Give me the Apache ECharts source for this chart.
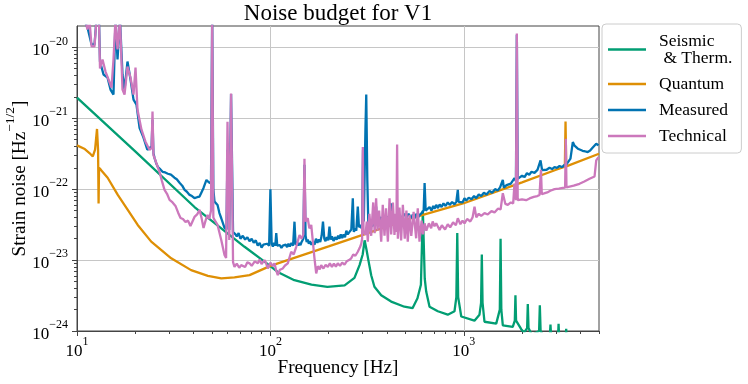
<!DOCTYPE html>
<html>
<head>
<meta charset="utf-8">
<script src="https://cdn.jsdelivr.net/npm/echarts@6/dist/echarts.min.js"></script>
<style>html,body{margin:0;padding:0;background:#fff}#c{width:748px;height:384px}</style>
</head>
<body>
<div id="c"></div>
<script>
// ---- data (frequency in Hz, strain noise in 1/sqrt(Hz)) ----
const seismicF = [10, 20, 40.5, 73.5, 93.2, 109, 133, 163, 197, 242, 272, 289, 300, 307, 314, 321, 332, 345, 374, 421, 493, 543, 576, 600, 614, 628, 639, 665, 734, 826, 895, 915, 925, 935, 970, 1135, 1205, 1228, 1239, 1250, 1279, 1471, 1535, 1549, 1563, 1591, 1791, 1835, 1849, 1863, 1981, 2050, 2125, 2142, 2160, 2250, 2450, 2472, 2495, 2600, 2780, 2806, 2830, 3065, 3090, 3115, 3360, 3383, 3405, 3600, 5000];
const seismicV = [1.95e-21, 3.42e-22, 5.6e-23, 1.54e-23, 9.5e-24, 6.8e-24, 5.2e-24, 4.5e-24, 4.2e-24, 4.4e-24, 5.6e-24, 8.5e-24, 1.2e-23, 1.9e-23, 1.4e-23, 1.0e-23, 6.1e-24, 4.2e-24, 3.2e-24, 2.6e-24, 2.2e-24, 2.1e-24, 2.9e-24, 4.5e-24, 5e-23, 5.5e-24, 3.6e-24, 2.2e-24, 1.9e-24, 1.7e-24, 1.9e-24, 3e-24, 2.4e-23, 3e-24, 1.6e-24, 1.4e-24, 1.7e-24, 2.5e-24, 1.2e-23, 2.5e-24, 1.35e-24, 1.27e-24, 2e-24, 2e-23, 2e-24, 1.2e-24, 1.14e-24, 1.4e-24, 3.2e-24, 1.4e-24, 1.06e-24, 9.5e-25, 1.1e-24, 2.4e-24, 1.1e-24, 8.8e-25, 1.0e-24, 2.3e-24, 1.0e-24, 8.2e-25, 8e-25, 1.23e-24, 8e-25, 7.5e-25, 1.26e-24, 7.5e-25, 7e-25, 1.07e-24, 7e-25, 6.5e-25, 5.5e-25];

const quantumF = [10, 10.9, 11.6, 12.07, 12.4, 12.69, 12.85, 12.93, 13.0, 13.3, 14.4, 16.25, 18.3, 20.6, 24.2, 30.7, 38.9, 47.5, 55.7, 65.2, 78, 100, 200, 300, 500, 1000, 2000, 3000, 3330, 3357, 3385, 5000];
const quantumV = [4.14e-22, 3.72e-22, 3.23e-22, 2.89e-22, 3.6e-22, 7.06e-22, 3.6e-22, 6.3e-23, 2.0e-22, 1.87e-22, 1.45e-22, 8.3e-23, 5.1e-23, 3.13e-23, 1.82e-23, 1.06e-23, 7.22e-24, 6.0e-24, 5.51e-24, 5.69e-24, 6.14e-24, 8.3e-24, 1.56e-23, 2.27e-23, 3.68e-23, 6.34e-23, 1.25e-22, 1.88e-22, 2.07e-22, 9e-22, 2.1e-22, 3.16e-22];

const measuredF = [10, 11.33, 11.89, 12.32, 12.61, 12.99, 13.15, 13.71, 14.38, 14.9, 15.44, 15.81, 16.2, 16.68, 17.19, 17.61, 18.24, 18.91, 19.6, 20.3, 21.05, 22.07, 23.1, 24.3, 24.57, 24.85, 25.16, 25.7, 26.2, 27, 27.7, 28.6, 29.5, 30.6, 31.9, 32.8, 33.9, 35, 36, 37, 38.2, 39.3, 40.5, 41.8, 43.0, 44, 45.1, 46.7, 48, 49.3, 50, 50.7, 51.4, 53.3, 54.5, 55.7, 57.9, 59.3, 60.0, 61.3, 62.6, 64.1, 66, 67, 68.5, 70, 72, 74, 76, 78, 80, 82, 84, 86, 88, 90, 92, 94, 96, 98.5, 100, 101.5, 103, 104.4, 106, 107.2, 108.5, 110, 112, 114, 116, 118, 120, 122, 124, 126, 128.5, 131, 133.2, 135, 137, 139, 141, 143, 145, 148, 150, 152, 154, 156, 158, 160, 163, 166, 169, 172, 175, 178, 181, 184, 187, 190, 192.7, 196, 199, 202, 205, 208, 212, 216, 220, 224, 227.5, 231, 235, 239, 243, 247, 251, 256.5, 262, 266.7, 270, 273.8, 278, 283, 287, 292, 296, 298, 301.3, 304, 306, 310, 313, 317, 321, 325.4, 330, 336, 345, 349, 352, 355, 360, 366.5, 373, 380, 388, 396, 404.5, 412, 418, 421, 424, 428, 436, 446, 456, 466, 478, 493, 505, 518, 535, 545, 556, 570, 580, 590, 605, 620, 627, 635, 649, 665, 680, 695, 705.5, 720, 735, 750, 767, 785, 805, 826, 845, 870, 895, 915, 925, 931, 940, 962, 985, 1008, 1030, 1060, 1096, 1130, 1160, 1195, 1230, 1270, 1310, 1358, 1400, 1450, 1499, 1540, 1575, 1591, 1610, 1663, 1700, 1750, 1790, 1828, 1860, 1880, 1900, 1941, 2000, 2061, 2120, 2180, 2239, 2320, 2404, 2450, 2493, 2540, 2583, 2680, 2773, 2860, 2944, 3030, 3125, 3220, 3317, 3400, 3475, 3560, 3661, 3736, 3886, 4000, 4110, 4250, 4375, 4500, 4630, 4738, 4838, 4972];
const measuredV = [4e-20, 1.9e-20, 1.1e-20, 1.1e-20, 2.5e-20, 2.5e-20, 6.31e-21, 4.14e-21, 3.75e-21, 2.54e-21, 2.16e-21, 2.5e-20, 6.74e-21, 2.5e-20, 4.14e-21, 2.54e-21, 6.31e-21, 3.52e-21, 1.83e-21, 1.56e-21, 7.36e-22, 5.32e-22, 3.6e-22, 4e-22, 9.55e-22, 3.2e-22, 2.77e-22, 2.3e-22, 2.05e-22, 1.9e-22, 1.76e-22, 1.72e-22, 1.65e-22, 1.6e-22, 1.45e-22, 1.38e-22, 1.23e-22, 1.12e-22, 9.77e-23, 9.2e-23, 8.3e-23, 8.0e-23, 7.46e-23, 7.7e-23, 7.86e-23, 9.0e-23, 1.04e-22, 1.35e-22, 1.25e-22, 1.2e-22, 3e-20, 1e-22, 6.68e-23, 6.0e-23, 4.6e-23, 3.89e-23, 2.84e-23, 2.7e-23, 3.6e-22, 2.66e-23, 2.2e-21, 2.49e-23, 2.3e-23, 2.15e-23, 2.4e-23, 2.0e-23, 2.2e-23, 1.95e-23, 2.1e-23, 1.85e-23, 2.0e-23, 1.75e-23, 1.9e-23, 1.6e-23, 1.75e-23, 1.5e-23, 1.65e-23, 1.55e-23, 1.7e-23, 1.6e-23, 1e-22, 1.7e-23, 1.55e-23, 1.75e-23, 1.6e-23, 2.41e-23, 1.6e-23, 1.5e-23, 1.62e-23, 1.48e-23, 1.6e-23, 1.5e-23, 1.65e-23, 1.52e-23, 1.7e-23, 1.55e-23, 1.75e-23, 1.6e-23, 3.48e-23, 1.65e-23, 1.8e-23, 1.6e-23, 1.75e-23, 1.62e-23, 1.8e-23, 2e-23, 2.21e-22, 2.2e-23, 1.8e-23, 1.95e-23, 1.7e-23, 1.85e-23, 1.65e-23, 1.8e-23, 1.65e-23, 2.0e-23, 1.75e-23, 1.95e-23, 1.8e-23, 2.2e-23, 3.48e-23, 2.0e-23, 1.85e-23, 2.1e-23, 1.9e-23, 2.96e-23, 1.95e-23, 2.15e-23, 1.86e-23, 2.1e-23, 1.95e-23, 2.2e-23, 2.0e-23, 2.3e-23, 2.05e-23, 2.3e-23, 2.1e-23, 2.6e-23, 2.3e-23, 2.5e-23, 2.7e-23, 7.46e-23, 2.5e-23, 2.8e-23, 2.6e-23, 5.67e-23, 2.9e-23, 3.13e-23, 2.8e-23, 3e-23, 3.6e-22, 3.5e-23, 3.5e-23, 7e-22, 2.16e-21, 1.35e-22, 3.0e-23, 2.84e-23, 3.3e-23, 3.0e-23, 3.3e-23, 3.1e-23, 5.67e-23, 3.1e-23, 3.6e-23, 3.4e-23, 4.0e-23, 3.5e-23, 4.2e-23, 3.7e-23, 4.1e-23, 3.7e-23, 4.3e-23, 6.3e-23, 4.4e-23, 4.77e-23, 3.8e-23, 4.2e-23, 3.48e-23, 4.3e-23, 3.9e-23, 4.5e-23, 4.0e-23, 4.5e-23, 3.89e-23, 4.4e-23, 3.9e-23, 4.5e-23, 4.0e-23, 4.3e-23, 4.6e-23, 5e-23, 1.22e-22, 5e-23, 5.1e-23, 5.6e-23, 5.0e-23, 5.8e-23, 5.3e-23, 6.0e-23, 5.4e-23, 6.1e-23, 5.6e-23, 6.3e-23, 5.8e-23, 6.5e-23, 6.0e-23, 6.6e-23, 6.1e-23, 6.7e-23, 6.4e-23, 9.77e-23, 6.6e-23, 6.83e-23, 6.5e-23, 7.46e-23, 6.9e-23, 7.6e-23, 7.2e-23, 8e-23, 7.5e-23, 8.4e-23, 8.0e-23, 8.9e-23, 8.4e-23, 9.46e-23, 8.9e-23, 1.0e-22, 9.6e-23, 1.06e-22, 1.0e-22, 1.35e-22, 1.05e-22, 1.14e-22, 1.08e-22, 1.2e-22, 1.15e-22, 1.43e-22, 1.3e-22, 1.5e-20, 1.4e-22, 1.4e-22, 1.55e-22, 1.48e-22, 1.68e-22, 1.6e-22, 1.76e-22, 1.7e-22, 1.87e-22, 1.8e-22, 2.54e-22, 1.85e-22, 1.95e-22, 1.88e-22, 2.0e-22, 1.92e-22, 2.05e-22, 2.0e-22, 2.12e-22, 2.05e-22, 2.2e-22, 2.25e-22, 2.4e-22, 2.7e-22, 4.62e-22, 4.1e-22, 3.72e-22, 3.6e-22, 3.48e-22, 3.4e-22, 3.34e-22, 3.5e-22, 3.84e-22, 4.0e-22, 4.37e-22, 4.14e-22];

const technicalF = [10, 10.8, 11.33, 11.6, 11.89, 12.32, 12.61, 12.99, 13.15, 13.55, 14.04, 14.55, 15.08, 15.44, 15.81, 16.2, 16.68, 17.19, 17.61, 18.24, 18.91, 19.6, 20.07, 20.55, 21.55, 22.6, 23.7, 24.3, 24.57, 24.85, 25.16, 26.7, 27.5, 28.35, 29.2, 30.1, 31.2, 32.3, 33.3, 34.3, 35.3, 36.4, 37.5, 38.6, 40.5, 41.8, 43.0, 44, 45.1, 46.2, 47.3, 48.3, 49.3, 50, 50.7, 51.4, 53.3, 55.7, 57.9, 59.0, 60.0, 61.3, 62.6, 64.1, 65.2, 67, 69, 70.6, 72, 74, 76, 78, 80, 83, 86.1, 88, 90, 93.2, 95, 97, 100, 102.9, 105, 107, 109.2, 112, 115.9, 119, 123, 128.1, 132, 136, 141.4, 145, 148, 150, 152, 156, 159, 162.6, 169, 172.5, 176, 180, 183, 188, 193, 198, 203, 208, 213, 218, 223, 229, 235, 241.6, 248, 255, 261.7, 268, 275, 283, 290, 295, 298, 300.5, 303, 310, 315, 318.8, 325, 332, 340, 346, 352, 358, 365, 374, 381, 389, 396, 405, 413, 421, 430, 438, 445, 448, 452, 456, 465, 474, 484, 495, 505, 513, 524, 535, 550, 567, 578, 590, 605, 615, 627, 640, 660, 678, 690, 705.5, 720, 749, 770, 800, 826, 850, 880, 910, 931, 960, 985, 1008, 1040, 1080, 1110, 1136, 1160, 1195, 1230, 1280, 1330, 1390, 1441, 1500, 1550, 1591, 1640, 1688, 1750, 1800, 1828, 1860, 1880, 1900, 1941, 2000, 2100, 2187, 2300, 2400, 2463, 2480, 2506, 2530, 2600, 2700, 2800, 2944, 3100, 3250, 3340, 3368, 3395, 3475, 3700, 3963, 4200, 4467, 4742, 4838, 4972];
const technicalV = [4e-20, 3e-20, 1.79e-20, 2.5e-20, 1.03e-20, 1.03e-20, 2.5e-20, 2.5e-20, 5.03e-21, 6.74e-21, 4.56e-21, 3.52e-21, 2.71e-21, 6.74e-21, 2.5e-20, 9.34e-21, 2.5e-20, 2.54e-21, 2.16e-21, 5.37e-21, 3.75e-21, 2.16e-21, 5.2e-21, 1.32e-21, 6.9e-22, 4.67e-22, 3.6e-22, 3.8e-22, 1.24e-21, 3e-22, 2.77e-22, 1.76e-22, 1.3e-22, 9.77e-23, 8.6e-23, 7.06e-23, 6.5e-23, 5.8e-23, 4.7e-23, 3.93e-23, 3.8e-23, 3.45e-23, 3.6e-23, 3.03e-23, 4.06e-23, 4.4e-23, 5.1e-23, 4.0e-23, 2.84e-23, 3.6e-23, 4.33e-23, 3.8e-23, 5e-23, 3e-20, 4e-23, 3.68e-23, 3.13e-23, 1.92e-23, 1.18e-23, 1.07e-23, 8.95e-22, 1.92e-23, 2.23e-21, 9.37e-24, 8.04e-24, 8.9e-24, 7.8e-24, 8.5e-24, 9.0e-24, 8.0e-24, 9.3e-24, 8.99e-24, 8.3e-24, 9.6e-24, 9.0e-24, 1.02e-23, 8.8e-24, 1e-23, 9.0e-24, 7.63e-24, 9.2e-24, 8.2e-24, 9e-24, 7.2e-24, 6.14e-24, 7.3e-24, 7.63e-24, 8.4e-24, 8.99e-24, 1.31e-23, 1.2e-23, 1.54e-23, 2.26e-23, 2.0e-23, 2.3e-23, 2.68e-22, 3.5e-23, 3.89e-23, 2.8e-23, 3.13e-23, 1.06e-23, 6.48e-24, 8.2e-24, 7.4e-24, 8.5e-24, 7.6e-24, 8.6e-24, 8.04e-24, 9.0e-24, 8.0e-24, 8.9e-24, 8.1e-24, 9e-24, 8.3e-24, 9.2e-24, 8.6e-24, 9.6e-24, 1.0e-23, 1.06e-23, 1.2e-23, 1.15e-23, 1.31e-23, 1.5e-23, 1.7e-23, 2e-23, 3.93e-22, 2.5e-23, 2.26e-23, 3.5e-23, 1.82e-23, 4.5e-23, 2.2e-23, 6.5e-23, 2.4e-23, 7.46e-23, 2.6e-23, 5.0e-23, 1.82e-23, 6.0e-23, 2.2e-23, 5.39e-23, 1.82e-23, 7.46e-23, 2.3e-23, 6.5e-23, 2.26e-23, 4.5e-23, 2.5e-23, 4.27e-22, 2e-23, 5.5e-23, 1.9e-23, 6.0e-23, 2.0e-23, 5.0e-23, 1.82e-23, 4.33e-23, 2.2e-23, 4.8e-23, 2.03e-23, 5.39e-23, 1.82e-23, 3.6e-23, 2.3e-23, 3.3e-23, 2.6e-23, 3.3e-23, 2.8e-23, 3.5e-23, 3.0e-23, 3.3e-23, 2.66e-23, 3.1e-23, 2.7e-23, 3.2e-23, 2.9e-23, 3.4e-23, 3.1e-23, 3.89e-23, 3.2e-23, 3.6e-23, 3.3e-23, 3.8e-23, 3.5e-23, 4.0e-23, 5.67e-23, 4.0e-23, 4.5e-23, 4.2e-23, 4.6e-23, 4.4e-23, 4.9e-23, 4.7e-23, 5.3e-23, 5.2e-23, 8.78e-23, 6.2e-23, 6.0e-23, 6.5e-23, 6.3e-23, 1.2e-22, 7e-23, 1.57e-20, 7e-23, 6.6e-23, 7.2e-23, 7.0e-23, 7.4e-23, 7.8e-23, 8.0e-23, 8.3e-23, 8.3e-23, 1.87e-22, 8.5e-23, 8.7e-23, 9.0e-23, 9.5e-23, 1.0e-22, 1.02e-22, 1.04e-22, 1.05e-22, 5.14e-22, 1.06e-22, 1.06e-22, 1.12e-22, 1.19e-22, 1.28e-22, 1.4e-22, 1.51e-22, 2.54e-22, 2.84e-22];

const seriesNames = ['Seismic\n & Therm.', 'Quantum', 'Measured', 'Technical'];
const seriesColors = ['#029e73', '#de8f05', '#0173b2', '#cc78bc'];
const xMajorTicks = [10, 100, 1000];
const yMajorTicks = [1e-24, 1e-23, 1e-22, 1e-21, 1e-20];
const xMinorTicks = [];
[10, 100, 1000].forEach(d => { for (let m = 2; m <= 9; m++) if (m * d <= 5000) xMinorTicks.push(m * d); });
const yMinorTicks = [];
[1e-24, 1e-23, 1e-22, 1e-21].forEach(d => { for (let m = 2; m <= 9; m++) yMinorTicks.push(m * d); });

const FONT = 'Liberation Serif';
function pairs(f, v) { return f.map((x, i) => [x, v[i]]); }
function sci(v) {
  const l = Math.log10(v), e = Math.round(l);
  if (Math.abs(l - e) > 1e-6) return '';
  return '{b|10}{s|' + (e < 0 ? '\u2212' + (-e) : String(e)) + '}';
}
const rich = {
  b: { fontFamily: FONT, fontSize: 17, lineHeight: 24, color: '#000', verticalAlign: 'bottom' },
  s: { fontFamily: FONT, fontSize: 12, lineHeight: 13, color: '#000', verticalAlign: 'top' }
};
const axisCol = '#444';

const chart = echarts.init(document.getElementById('c'), null, { renderer: 'canvas' });
const datas = [pairs(seismicF, seismicV), pairs(quantumF, quantumV), pairs(measuredF, measuredV), pairs(technicalF, technicalV)];

chart.setOption({
  animation: false,
  backgroundColor: '#fff',
  graphic: [{
    type: 'text', x: 338, y: 14,
    style: { text: 'Noise budget for V1', fontFamily: FONT, fontSize: 23, fill: '#000', textAlign: 'center', textVerticalAlign: 'middle' }
  }],
  grid: { left: 77, top: 26, width: 522, height: 305, show: true, borderColor: axisCol, borderWidth: 1, backgroundColor: 'transparent', outerBoundsMode: 'none', containLabel: false },
  legend: {
    orient: 'vertical', left: 602, top: 24,
    icon: 'rect', itemWidth: 38, itemHeight: 2.5, itemGap: 8,
    padding: [8, 9, 8, 6],
    backgroundColor: 'rgba(255,255,255,0.8)', borderColor: '#cccccc', borderWidth: 1, borderRadius: 4,
    textStyle: { fontFamily: FONT, fontSize: 17.5, color: '#000', lineHeight: 17, padding: [0, 0, 0, 8] },
    data: seriesNames,
    selectedMode: false
  },
  xAxis: [{
    type: 'log', logBase: 10, min: 10, max: 5000, position: 'bottom',
    name: 'Frequency [Hz]', nameLocation: 'middle', nameGap: 27, nameMoveOverlap: false,
    nameTextStyle: { fontFamily: FONT, fontSize: 19.2, color: '#000' },
    axisLine: { show: true, lineStyle: { color: axisCol, width: 1 } },
    axisTick: { show: true, length: 5, lineStyle: { color: axisCol }, customValues: xMajorTicks },
    axisLabel: { show: true, margin: 5, formatter: sci, rich: rich, fontFamily: FONT, fontSize: 17, color: '#000', customValues: xMajorTicks, hideOverlap: false },
    splitLine: { show: true, lineStyle: { color: '#c6c6c6', width: 1 } },
    minorTick: { show: false }, minorSplitLine: { show: false }
  }, {
    type: 'log', logBase: 10, min: 10, max: 5000, position: 'bottom',
    axisLine: { show: false }, axisLabel: { show: false }, splitLine: { show: false },
    axisTick: { show: true, length: 3, lineStyle: { color: axisCol }, customValues: xMinorTicks }
  }],
  yAxis: [{
    type: 'log', logBase: 10, min: 1e-24, max: 2e-20, position: 'left',
    name: '{n|Strain noise [Hz}{s|\u22121/2}{n|]}', nameLocation: 'middle', nameGap: 48, nameMoveOverlap: false,
    nameTextStyle: { fontFamily: FONT, fontSize: 19.2, color: '#000',
      rich: { n: { fontFamily: FONT, fontSize: 19.2, lineHeight: 26, color: '#000', verticalAlign: 'bottom' },
              s: { fontFamily: FONT, fontSize: 13.5, lineHeight: 14, color: '#000', verticalAlign: 'top' } } },
    axisLine: { show: true, lineStyle: { color: axisCol, width: 1 } },
    axisTick: { show: true, length: 5, lineStyle: { color: axisCol }, customValues: yMajorTicks },
    axisLabel: { show: true, margin: 9, formatter: sci, rich: rich, fontFamily: FONT, fontSize: 17, color: '#000', customValues: yMajorTicks, hideOverlap: false },
    splitLine: { show: true, lineStyle: { color: '#c6c6c6', width: 1 } },
    minorTick: { show: false }, minorSplitLine: { show: false }
  }, {
    type: 'log', logBase: 10, min: 1e-24, max: 2e-20, position: 'left',
    axisLine: { show: false }, axisLabel: { show: false }, splitLine: { show: false },
    axisTick: { show: true, length: 3, lineStyle: { color: axisCol }, customValues: yMinorTicks }
  }],
  series: seriesNames.map((n, i) => ({
    name: n, type: 'line', xAxisIndex: 0, yAxisIndex: 0,
    data: datas[i], showSymbol: false, symbol: 'none', clip: true,
    lineStyle: { width: 2.3, color: seriesColors[i] }, itemStyle: { color: seriesColors[i] },
    emphasis: { disabled: true }, z: 2 + i
  }))
});
</script>
</body>
</html>
